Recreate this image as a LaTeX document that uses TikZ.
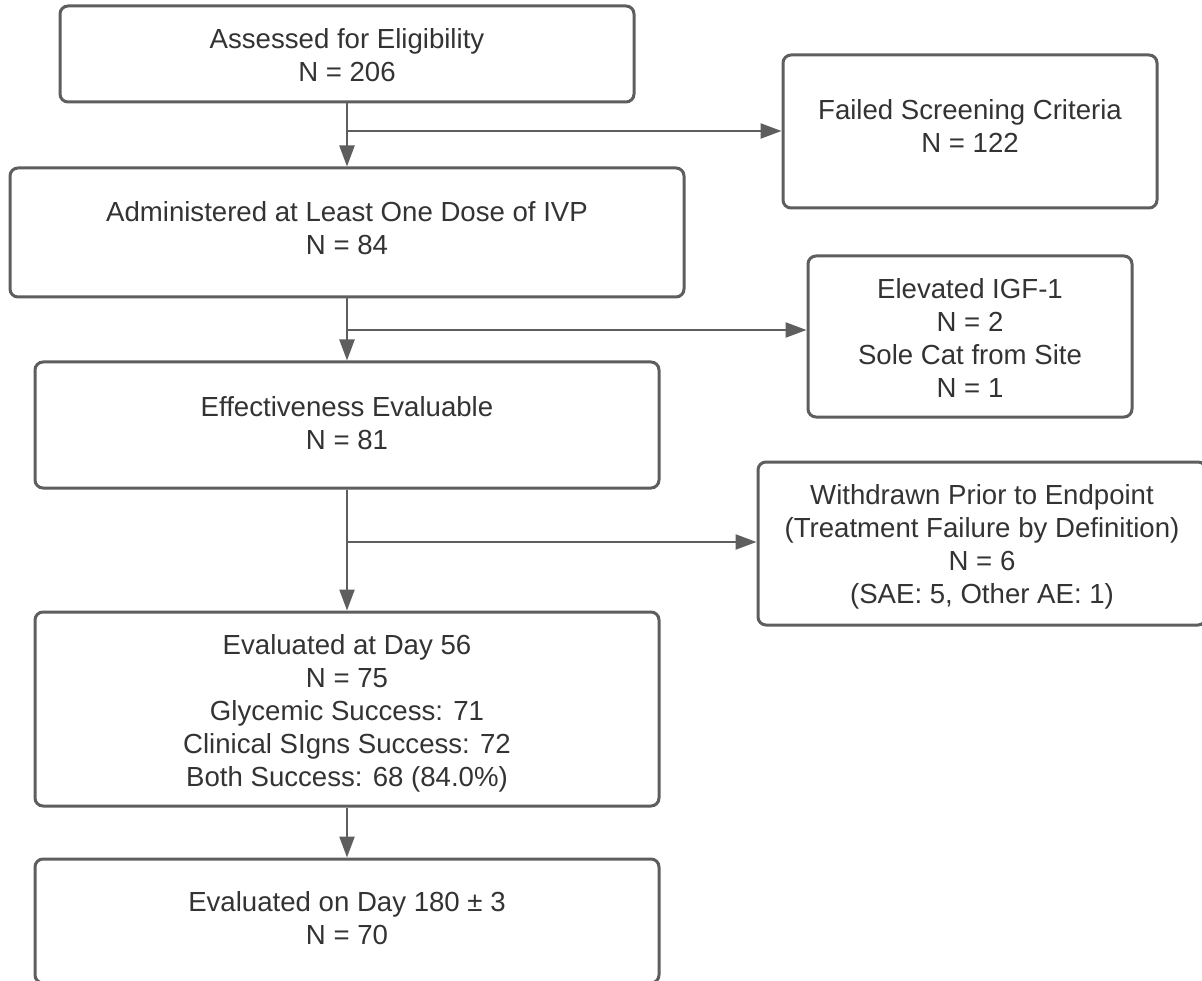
\documentclass[tikz,border=0pt]{standalone}
\usepackage{fontspec}
\setmainfont{Liberation Sans}
\usetikzlibrary{arrows.meta}
\definecolor{linegray}{HTML}{5E5E5E}
\definecolor{textgray}{HTML}{333333}
\begin{document}
\begin{tikzpicture}[x=1pt,y=-1pt,
  box/.style={draw=linegray, line width=3pt, rounded corners=8pt, inner sep=0pt, fill=white},
  txt/.style={align=center, text=textgray, font=\fontsize{27.6}{33}\selectfont, inner sep=0pt},
  arr/.style={draw=linegray, line width=2.4pt, -{Triangle[length=21pt,width=15pt]}},
  ]
\useasboundingbox (0,0) rectangle (1202,981);
\clip (0,0) rectangle (1202,981);
\fill[white] (0,0) rectangle (1202,981);

\node[box, minimum width=574pt, minimum height=96pt] (A) at (347,54) {};
\node[txt] (At) at (347,55) {Assessed for Eligibility\\N = 206};

\node[box, minimum width=374pt, minimum height=153pt] (F) at (970,131.5) {};
\node[txt] (Ft) at (970,126.5) {Failed Screening Criteria\\N = 122};

\node[box, minimum width=674pt, minimum height=129pt] (D) at (347,232.5) {};
\node[txt] (Dt) at (347,227.7) {Administered at Least One Dose of IVP\\N = 84};

\node[box, minimum width=324pt, minimum height=161pt] (I) at (970,336.5) {};
\node[txt] (It) at (970,338) {Elevated IGF-1\\N = 2\\Sole Cat from Site\\N = 1};

\node[box, minimum width=624pt, minimum height=126pt] (E) at (347,425) {};
\node[txt] (Et) at (347,423.5) {Effectiveness Evaluable\\N = 81};

\node[box, minimum width=448pt, minimum height=163pt] (W) at (982,543.5) {};
\node[txt] (Wt) at (982,546.5) {Withdrawn Prior to Endpoint\\(Treatment Failure by Definition)\\N = 6\\(SAE: 5, Other AE: 1)};

\node[box, minimum width=624pt, minimum height=194pt] (S) at (347,709) {};
\node[txt] (St) at (347,713) {Evaluated at Day 56\\N = 75\\Glycemic Success: 71\\Clinical SIgns Success: 72\\Both Success: 68 (84.0\%)};

\node[box, minimum width=624pt, minimum height=124pt] (T) at (347,921) {};
\node[txt] (Tt) at (347,918.5) {Evaluated on Day 180 ± 3\\N = 70};

\coordinate (b1) at (347,131);
\coordinate (b2) at (347,330);
\coordinate (b3) at (347,542);

\draw[arr] (A.south) -- (D.north);
\draw[arr] (b1) -- (b1 -| F.west);
\draw[arr] (D.south) -- (E.north);
\draw[arr] (b2) -- (b2 -| I.west);
\draw[arr] (E.south) -- (S.north);
\draw[arr] (b3) -- (b3 -| W.west);
\draw[arr] (S.south) -- (T.north);
\end{tikzpicture}
\end{document}
